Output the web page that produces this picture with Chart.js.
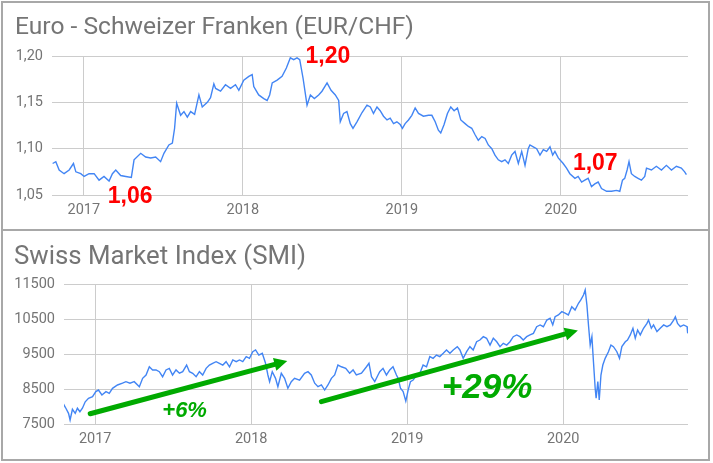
<!DOCTYPE html>
<html><head><meta charset="utf-8">
<script src="https://cdn.jsdelivr.net/npm/chart.js@4.4.1/dist/chart.umd.min.js"></script>
<style>
html,body{margin:0;padding:0;background:#fff;width:713px;height:463px;overflow:hidden}
#c1{position:absolute;left:0;top:0}
#c2{position:absolute;left:0;top:230px}
.frame{position:absolute;left:1px;top:1px;width:709px;height:460px;box-sizing:border-box;border:2px solid #a8a8a8;pointer-events:none}
.sep{position:absolute;left:1px;top:229px;width:709px;height:2px;background:#a8a8a8}
</style></head>
<body>
<canvas id="c1" width="713" height="230"></canvas>
<canvas id="c2" width="713" height="233"></canvas>
<div class="frame"></div><div class="sep"></div>
<script>
// ---------- DATA ----------
const yearTicks = [2017, 2018, 2019, 2020];
const yearLabels = ['2017', '2018', '2019', '2020'];

const fxTitle = 'Euro - Schweizer Franken (EUR/CHF)';
const fxTickValues = [1.05, 1.10, 1.15, 1.20];
const fxTickLabels = ['1,05', '1,10', '1,15', '1,20'];
const fxYears = [2016.804,2016.824,2016.845,2016.876,2016.908,2016.935,2016.950,2016.981,2017.002,2017.033,2017.065,2017.096,2017.127,2017.159,2017.180,2017.201,2017.232,2017.264,2017.299,2017.316,2017.358,2017.389,2017.421,2017.452,2017.483,2017.504,2017.535,2017.557,2017.571,2017.584,2017.609,2017.630,2017.651,2017.672,2017.697,2017.724,2017.745,2017.777,2017.797,2017.818,2017.829,2017.860,2017.891,2017.923,2017.954,2017.975,2018.006,2018.038,2018.059,2018.069,2018.100,2018.132,2018.153,2018.169,2018.185,2018.216,2018.247,2018.274,2018.299,2018.320,2018.341,2018.358,2018.379,2018.404,2018.425,2018.450,2018.477,2018.498,2018.530,2018.555,2018.582,2018.603,2018.613,2018.634,2018.655,2018.676,2018.693,2018.718,2018.750,2018.781,2018.802,2018.822,2018.844,2018.864,2018.885,2018.907,2018.927,2018.948,2018.969,2018.990,2019.004,2019.021,2019.042,2019.063,2019.084,2019.105,2019.136,2019.168,2019.189,2019.210,2019.230,2019.245,2019.266,2019.287,2019.308,2019.329,2019.350,2019.371,2019.398,2019.419,2019.440,2019.461,2019.481,2019.503,2019.524,2019.544,2019.566,2019.586,2019.607,2019.628,2019.649,2019.670,2019.691,2019.712,2019.733,2019.754,2019.775,2019.795,2019.806,2019.827,2019.848,2019.869,2019.890,2019.911,2019.932,2019.949,2019.963,2019.984,2020.015,2020.036,2020.057,2020.089,2020.109,2020.131,2020.151,2020.172,2020.193,2020.214,2020.235,2020.256,2020.288,2020.319,2020.350,2020.371,2020.388,2020.402,2020.417,2020.429,2020.444,2020.465,2020.486,2020.507,2020.528,2020.539,2020.570,2020.601,2020.633,2020.664,2020.696,2020.727,2020.758,2020.779,2020.790];
const fxRates = [1.084,1.086,1.077,1.073,1.077,1.084,1.075,1.073,1.070,1.073,1.073,1.066,1.070,1.065,1.073,1.077,1.071,1.070,1.069,1.088,1.095,1.091,1.090,1.091,1.086,1.095,1.104,1.106,1.122,1.149,1.136,1.140,1.134,1.140,1.137,1.158,1.145,1.150,1.155,1.170,1.165,1.162,1.169,1.165,1.169,1.163,1.174,1.178,1.180,1.167,1.158,1.154,1.152,1.158,1.171,1.174,1.178,1.187,1.198,1.196,1.198,1.196,1.176,1.147,1.158,1.154,1.158,1.162,1.171,1.163,1.158,1.152,1.129,1.138,1.140,1.127,1.122,1.129,1.139,1.147,1.145,1.138,1.145,1.141,1.135,1.131,1.133,1.127,1.129,1.126,1.122,1.127,1.131,1.136,1.144,1.138,1.135,1.136,1.136,1.129,1.120,1.117,1.126,1.138,1.145,1.141,1.144,1.131,1.127,1.124,1.122,1.115,1.109,1.113,1.111,1.104,1.100,1.093,1.088,1.086,1.088,1.084,1.093,1.097,1.084,1.097,1.082,1.100,1.104,1.102,1.100,1.093,1.099,1.097,1.102,1.093,1.097,1.090,1.084,1.079,1.073,1.068,1.070,1.064,1.066,1.068,1.059,1.062,1.064,1.057,1.054,1.054,1.055,1.054,1.066,1.068,1.077,1.086,1.073,1.070,1.068,1.066,1.070,1.079,1.077,1.081,1.077,1.082,1.077,1.081,1.079,1.075,1.072];
const fxNoteTexts = ['1,06', '1,20', '1,07'];
const fxNoteYears = [2017.151, 2018.394, 2020.076];
const fxNoteValues = [1.0414, 1.1924, 1.0770];

const smiTitle = 'Swiss Market Index (SMI)';
const smiTickValues = [7500, 8500, 9500, 10500, 11500];
const smiTickLabels = ['7500', '8500', '9500', '10500', '11500'];
const smiYears = [2016.794,2016.812,2016.829,2016.839,2016.854,2016.872,2016.886,2016.902,2016.918,2016.936,2016.957,2016.983,2017.004,2017.021,2017.043,2017.069,2017.090,2017.111,2017.143,2017.175,2017.197,2017.223,2017.250,2017.283,2017.304,2017.326,2017.347,2017.368,2017.390,2017.411,2017.432,2017.454,2017.475,2017.496,2017.518,2017.540,2017.561,2017.586,2017.604,2017.625,2017.647,2017.668,2017.689,2017.711,2017.732,2017.753,2017.775,2017.796,2017.818,2017.839,2017.861,2017.882,2017.904,2017.925,2017.946,2017.968,2017.989,2018.010,2018.028,2018.049,2018.071,2018.092,2018.107,2018.118,2018.135,2018.156,2018.171,2018.193,2018.214,2018.235,2018.257,2018.278,2018.310,2018.342,2018.364,2018.385,2018.407,2018.428,2018.450,2018.471,2018.492,2018.514,2018.535,2018.556,2018.578,2018.606,2018.631,2018.653,2018.674,2018.707,2018.739,2018.755,2018.771,2018.792,2018.813,2018.824,2018.845,2018.867,2018.888,2018.909,2018.931,2018.942,2018.957,2018.974,2018.991,2019.006,2019.021,2019.038,2019.060,2019.081,2019.102,2019.124,2019.145,2019.166,2019.188,2019.209,2019.231,2019.252,2019.274,2019.295,2019.321,2019.338,2019.359,2019.381,2019.402,2019.423,2019.445,2019.466,2019.488,2019.509,2019.531,2019.552,2019.574,2019.595,2019.616,2019.638,2019.659,2019.680,2019.702,2019.723,2019.744,2019.766,2019.787,2019.809,2019.830,2019.852,2019.873,2019.895,2019.916,2019.933,2019.948,2019.969,2019.991,2020.012,2020.033,2020.055,2020.076,2020.098,2020.113,2020.130,2020.141,2020.152,2020.162,2020.173,2020.184,2020.194,2020.205,2020.211,2020.222,2020.231,2020.242,2020.254,2020.269,2020.290,2020.306,2020.322,2020.344,2020.361,2020.376,2020.398,2020.412,2020.430,2020.447,2020.462,2020.477,2020.494,2020.515,2020.537,2020.547,2020.565,2020.579,2020.601,2020.622,2020.644,2020.665,2020.687,2020.708,2020.719,2020.733,2020.751,2020.772,2020.794,2020.798];
const smiValues = [8090,7950,7805,7615,7920,7805,7950,7850,7950,8135,8235,8280,8425,8470,8330,8425,8375,8520,8615,8665,8710,8665,8710,8565,8805,8900,9135,9045,9045,8995,8850,9045,9090,8900,9045,8950,8995,9185,8995,8950,8850,8995,8900,9090,9185,9235,9280,9235,9185,9280,9135,9330,9280,9330,9280,9425,9375,9565,9615,9470,9520,9235,8900,8710,8995,8805,8565,8950,8805,8520,8710,8805,8755,8950,8995,8900,8665,8565,8615,8470,8615,8805,8900,9185,9135,9090,8950,9045,8900,8950,9135,9235,8850,8710,8900,8995,9090,8900,9045,9135,8900,8805,8520,8425,8155,8470,8710,8755,8900,8950,9185,9135,9425,9375,9470,9425,9520,9615,9520,9615,9710,9615,9375,9565,9710,9615,9850,9900,9995,9950,9755,9950,9850,9710,9805,9755,9850,9995,10045,9995,9900,9995,10045,10090,10280,10330,10280,10470,10520,10330,10565,10615,10710,10665,10615,10850,10755,10950,11045,11185,11330,10900,10330,9755,9995,9280,8520,8235,8710,8185,8900,9185,9375,9565,9755,9710,9565,9375,9710,9850,9900,10045,10235,9950,10185,10045,10235,10375,10470,10235,10330,10140,10235,10330,10280,10330,10470,10565,10375,10280,10330,10280,10090];
const smiNoteTexts = ['+6%', '+29%'];
const smiNoteYears = [2017.430, 2019.222];
const smiNoteValues = [7700, 8243];
const smiArrowFromYears = [2016.968, 2018.450];
const smiArrowFromValues = [7794, 8137];
const smiArrowToYears = [2018.231, 2020.094];
const smiArrowToValues = [9300, 10171];

// ---------- DRAWING ----------
const GRID = '#cccccc', TEXT = '#757575', LINE = '#4285f4', RED = '#ff0000', GREEN = '#00aa00';

const overlay = {
  id: 'overlay',
  afterDraw(chart, args, o) {
    const ctx = chart.ctx, xs = chart.scales.x, ys = chart.scales.y;
    ctx.save();
    ctx.textAlign = 'left';
    ctx.textBaseline = 'alphabetic';
    ctx.fillStyle = TEXT;
    ctx.font = o.titleFont;
    ctx.fillText(o.title, o.titleX, o.titleY);
    (o.arrows || []).forEach(a => {
      const x0 = xs.getPixelForValue(a.x0), y0 = ys.getPixelForValue(a.y0);
      const x1 = xs.getPixelForValue(a.x1), y1 = ys.getPixelForValue(a.y1);
      const ang = Math.atan2(y1 - y0, x1 - x0);
      const hl = 13, hw = 6.5;
      const bx = x1 - hl * Math.cos(ang), by = y1 - hl * Math.sin(ang);
      ctx.strokeStyle = GREEN; ctx.fillStyle = GREEN;
      ctx.lineWidth = 5; ctx.lineCap = 'round';
      ctx.beginPath(); ctx.moveTo(x0, y0); ctx.lineTo(bx + 2 * Math.cos(ang), by + 2 * Math.sin(ang)); ctx.stroke();
      ctx.beginPath();
      ctx.moveTo(x1, y1);
      ctx.lineTo(bx - hw * Math.sin(ang), by + hw * Math.cos(ang));
      ctx.lineTo(bx + hw * Math.sin(ang), by - hw * Math.cos(ang));
      ctx.closePath(); ctx.fill();
    });
    (o.notes || []).forEach(n => {
      ctx.font = n.font; ctx.fillStyle = n.color;
      ctx.fillText(n.text, xs.getPixelForValue(n.x), ys.getPixelForValue(n.y));
    });
    ctx.restore();
  }
};

function build(canvasId, xVals, yVals, yTickValues, yTickLabels, yMin, yMax, yAxisWidth, pad, overlayOpts) {
  const pts = xVals.map((x, i) => ({ x: x, y: yVals[i] }));
  return new Chart(document.getElementById(canvasId), {
    type: 'line',
    data: { datasets: [{ data: pts, borderColor: LINE, borderWidth: 1.4, pointRadius: 0, tension: 0, fill: false }] },
    plugins: [overlay],
    options: {
      responsive: false, animation: false, events: [],
      layout: { padding: pad },
      plugins: { legend: { display: false }, tooltip: { enabled: false }, title: { display: false }, overlay: overlayOpts },
      scales: {
        x: {
          type: 'linear', min: 2016.8, max: 2020.8,
          afterBuildTicks: s => { s.ticks = yearTicks.map(v => ({ value: v })); },
          afterFit: s => { s.height = 25; },
          ticks: { callback: (v, i) => yearLabels[i], color: TEXT, font: { family: 'Roboto', size: 14.5 }, padding: 7, maxRotation: 0 },
          grid: { color: GRID, lineWidth: 1, drawTicks: false },
          border: { display: false }
        },
        y: {
          type: 'linear', min: yMin, max: yMax,
          afterBuildTicks: s => { s.ticks = yTickValues.map(v => ({ value: v })); },
          afterFit: s => { s.width = yAxisWidth; },
          ticks: { callback: (v, i) => yTickLabels[i], color: TEXT, font: { family: 'Roboto', size: 14.5 }, padding: 9 },
          grid: { color: GRID, lineWidth: 1, drawTicks: false },
          border: { display: false }
        }
      }
    }
  });
}

const redFont = 'bold 23px "Liberation Sans", Arial, sans-serif';
build('c1', fxYears, fxRates, fxTickValues, fxTickLabels, 1.05, 1.20, 40,
  { left: 12, right: 25, top: 56, bottom: 10 },
  {
    title: fxTitle, titleFont: '24.6px Roboto', titleX: 15, titleY: 34,
    notes: fxNoteTexts.map((t, i) => ({ text: t, x: fxNoteYears[i], y: fxNoteValues[i], font: redFont, color: RED }))
  });

const greenFonts = ['italic bold 22px "Liberation Sans", Arial, sans-serif', 'italic bold 35px "Liberation Sans", Arial, sans-serif'];
build('c2', smiYears, smiValues, smiTickValues, smiTickLabels, 7500, 11500, 50,
  { left: 14, right: 25, top: 54, bottom: 14 },
  {
    title: smiTitle, titleFont: '25.8px Roboto', titleX: 14, titleY: 34,
    arrows: smiArrowFromYears.map((x, i) => ({ x0: x, y0: smiArrowFromValues[i], x1: smiArrowToYears[i], y1: smiArrowToValues[i] })),
    notes: smiNoteTexts.map((t, i) => ({ text: t, x: smiNoteYears[i], y: smiNoteValues[i], font: greenFonts[i], color: GREEN }))
  });
</script>
</body></html>
